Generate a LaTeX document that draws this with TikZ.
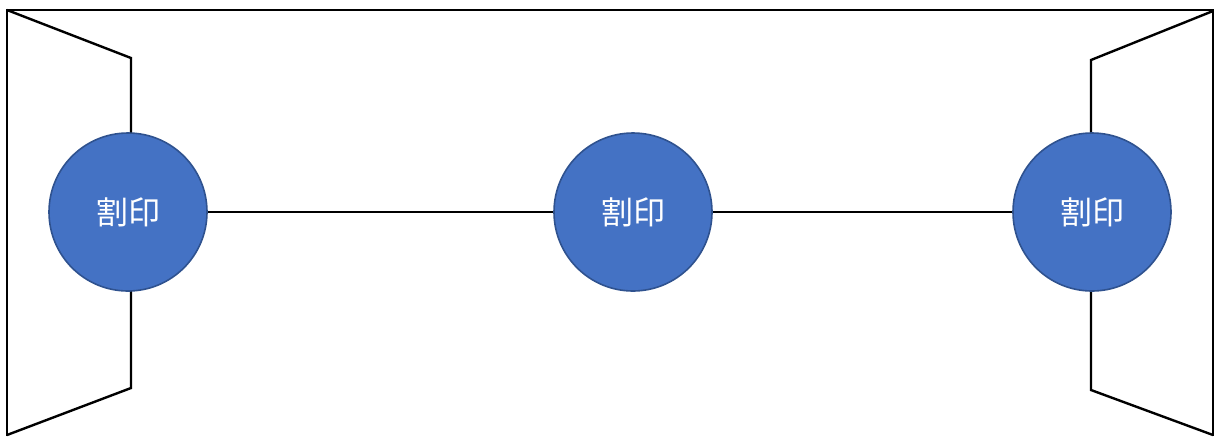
\documentclass[tikz,border=0pt]{standalone}
\usepackage{fontspec}
\usetikzlibrary{backgrounds}
\newfontfamily\cjk{Noto Sans CJK JP}
\definecolor{sealblue}{HTML}{4472C4}
\definecolor{sealedge}{HTML}{2F528F}

\begin{document}
\begin{tikzpicture}[x=0.5pt,y=-0.5pt,
    seal/.style={circle,fill=sealblue,draw=sealedge,line width=0.8pt,minimum size=79pt,inner sep=0pt,text=white,font=\cjk\fontsize{16}{16}\selectfont},
    frame/.style={line width=1.2pt,line join=miter}]
      \useasboundingbox (0,0) rectangle (1216,436);
      \draw
        (128,212) node[seal] (L) {割印}
        (633,212) node[seal] (M) {割印}
        (1092,212) node[seal] (R) {割印};
      \coordinate (ltop) at (131,58);
      \coordinate (lbot) at (131,388);
      \coordinate (rtop) at (1091,60);
      \coordinate (rbot) at (1091,390);
      \begin{pgfonlayer}{background}
      \draw[frame] (7,436) -- (7,10) -- (1213,10) -- (1213,436);
      \draw[frame] (7,10) -- (ltop) -- (ltop |- L.center);
      \draw[frame] (7,435) -- (lbot) -- (lbot |- L.center);
      \draw[frame] (1213,11) -- (rtop) -- (rtop |- R.center);
      \draw[frame] (1213,435) -- (rbot) -- (rbot |- R.center);
      \draw[line width=0.9pt]
        (L) -- (M)
        (M) -- (R);
      \end{pgfonlayer}
\end{tikzpicture}
\end{document}
